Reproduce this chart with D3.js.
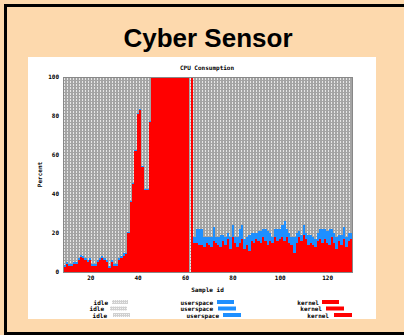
<!DOCTYPE html>
<html><head><meta charset="utf-8">
<script src="https://cdn.jsdelivr.net/npm/d3@7"></script>
<style>body{margin:0;background:#fdd9ad}svg{display:block}</style>
</head><body>
<script>
// ---------- data ----------
const firstSampleId = 9;
const kernel = [2.5,4,3,3,4,4,6,7.5,7,6,5,6,3,3,5,6,7,6,5,2,5,3,3,6,7,8,9,20,36,45,62,81,83,54,42,42,77,
  100,100,100,100,100,100,100,100,100,100,100,100,100,100,100,100,0,100,
  15,15,14,14,13,15,14,13,16,15,14,13,16,14,17,12,18,15,13,15,17,12,14,11,16,15,17,16,15,18,16,14,16,15,18,16,17,18,16,18,15,14,10,15,18,16,19,17,14,15,14,13,16,17,15,17,15,14,18,15,12,16,14,17,13,16,17];
const userspace = [1,1,1,1,1,1,1,1,1,1,1,1,1,1,1,1,1,1,1,1,1,1,1,1,1,2,1,0.5,0.5,0.5,0.5,0.5,0.5,0.5,0.5,0.5,0.5,
  0,0,0,0,0,0,0,0,0,0,0,0,0,0,0,0,0,0,
  3,7,8,8,5,3,4,5,7,3,4,6,3,4,3,6,6,3,5,7,7,5,4,8,4,5,3,5,6,4,6,7,4,3,4,6,5,6,10,4,5,4,8,5,3,3,5,3,5,4,4,4,4,5,7,5,6,8,4,5,6,3,5,6,5,4,3];
const yTicks = [0,20,40,60,80,100];
const xTicks = [20,40,60,80,100,120];
const seriesNames = ["idle","userspace","kernel"];
const pageTitle = "Cyber Sensor";
const chartTitle = "CPU Consumption";
const xTitle = "Sample id";
const yTitle = "Percent";

const rows = kernel.map((k,i)=>({id:firstSampleId+i, kernel:k, userspace:userspace[i], idle:Math.max(0,100-k-userspace[i])}));

// ---------- drawing ----------
const W=404,H=335;
const svg=d3.select("body").append("svg").attr("width",W).attr("height",H);
const defs=svg.append("defs");
const pat=defs.append("pattern").attr("id","idlePat").attr("patternUnits","userSpaceOnUse")
  .attr("width",3).attr("height",3);
pat.append("rect").attr("width",3).attr("height",3).attr("fill","#a4a4a4");
pat.append("rect").attr("x",1).attr("y",0).attr("width",1).attr("height",2).attr("fill","#e6e6e6");
const pat2=defs.append("pattern").attr("id","idleLeg").attr("patternUnits","userSpaceOnUse")
  .attr("width",2).attr("height",2);
pat2.append("rect").attr("width",2).attr("height",2).attr("fill","#d0d0d0");
pat2.append("rect").attr("width",1).attr("height",1).attr("fill","#f2f2f2");

const colors={idle:"url(#idlePat)",userspace:"#1e8fff",kernel:"#ff0000"};
const mono="'DejaVu Sans Mono', monospace";

// outer frame
svg.append("rect").attr("x",5.5).attr("y",5.5).attr("width",420).attr("height",328)
  .attr("fill","#fdd9ad").attr("stroke","#000").attr("stroke-width",3);
svg.append("text").attr("x",208).attr("y",46.5).attr("text-anchor","middle")
  .attr("font-family","'Liberation Sans', Arial, sans-serif").attr("font-weight","bold")
  .attr("font-size",26).text(pageTitle);

// white panel
svg.append("rect").attr("x",28).attr("y",57).attr("width",348).attr("height",262).attr("fill","#fff");

const x=d3.scaleLinear().domain([firstSampleId-0.5, firstSampleId+kernel.length-0.5]).range([63,352]);
const y=d3.scaleLinear().domain([0,100]).range([272,77]);

svg.append("rect").attr("x",63).attr("y",77).attr("width",289).attr("height",195).attr("fill","url(#idlePat)");

const stack=d3.stack().keys(["kernel","userspace","idle"])(rows);
const g=svg.append("g").attr("shape-rendering","crispEdges");
g.selectAll("g").data(stack).join("g").attr("fill",d=>colors[d.key])
  .selectAll("rect").data(d=>d).join("rect")
  .attr("x",d=>x(d.data.id-0.5)).attr("width",d=>x(d.data.id+0.5)-x(d.data.id-0.5)+0.4)
  .attr("y",d=>y(d[1])).attr("height",d=>Math.max(0,y(d[0])-y(d[1])));

svg.append("rect").attr("x",63).attr("y",77).attr("width",289).attr("height",195)
  .attr("fill","none").attr("stroke","#888").attr("stroke-width",1).attr("shape-rendering","crispEdges");

const ya=svg.append("g").attr("transform","translate(63,0)")
  .call(d3.axisLeft(y).tickValues(yTicks).tickSize(0).tickPadding(4));
ya.select(".domain").remove();
const xa=svg.append("g").attr("transform","translate(0,272)")
  .call(d3.axisBottom(x).tickValues(xTicks).tickSize(0).tickPadding(4));
xa.select(".domain").remove();
svg.selectAll(".tick text").attr("font-family",mono).attr("font-weight","bold").attr("font-size",6).attr("fill","#000");

const lab=(t,xx,yy,rot)=>{const e=svg.append("text").attr("text-anchor","middle")
  .attr("font-family",mono).attr("font-weight","bold").attr("font-size",6).attr("dominant-baseline","central").text(t);
  if(rot) e.attr("transform",`translate(${xx},${yy}) rotate(-90)`); else e.attr("x",xx).attr("y",yy);};
lab(chartTitle,207,67);
lab(xTitle,207.5,289);
lab(yTitle,39,174.5,true);

// legend (three repeated rows)
const legRows=[
  {y:302, pos:[[108,112,128],[213,217,234],[319,322,339]]},
  {y:308.5,pos:[[104,110,127],[213,218,236],[322,326,344]]},
  {y:315, pos:[[107,113,130],[219,223,241],[329,334,352]]}];
legRows.forEach(r=>{
  seriesNames.forEach((s,i)=>{
    const p=r.pos[i];
    svg.append("text").attr("x",p[0]).attr("y",r.y).attr("text-anchor","end").attr("dominant-baseline","central")
      .attr("font-family",mono).attr("font-weight","bold").attr("font-size",6).text(s);
    svg.append("rect").attr("x",p[1]).attr("y",r.y-2).attr("width",p[2]-p[1]).attr("height",4)
      .attr("fill",s==="idle"?"url(#idleLeg)":colors[s]);
  });
});
</script>
</body></html>
